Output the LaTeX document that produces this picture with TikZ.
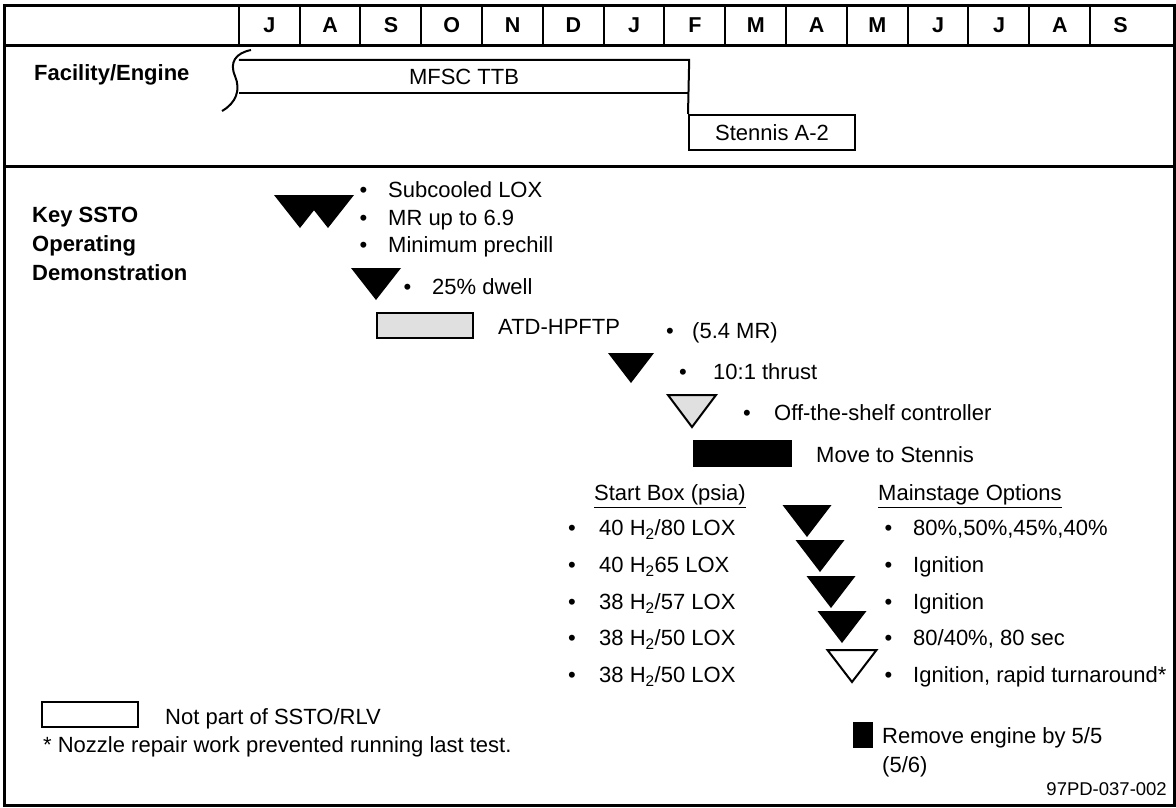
\documentclass[tikz,border=0pt]{standalone}
\usepackage{fontspec}
\setmainfont{Liberation Sans}

\newcommand{\blt}[1][21pt]{\llap{\textbullet\hspace{#1}}}

\tikzset{
  txt/.style={anchor=west,inner sep=0pt,font=\fontsize{22}{26}\selectfont,text height=15.7pt,text depth=0pt},
  lbl/.style={txt,font=\fontsize{22}{26}\selectfont\bfseries,text height=15.8pt},
  box/.style={inner sep=0pt,font=\fontsize{22}{26}\selectfont,text height=15.7pt,text depth=0pt},
  month/.style={box,minimum width=60.8pt,minimum height=40pt,font=\fontsize{21.5}{25}\selectfont\bfseries,text height=15.4pt},
  rule/.style={line width=3pt},
  thin/.style={line width=2pt},
  tri/.style={fill=black},
  trigray/.style={draw=black,fill=black!12,line width=2pt},
  triopen/.style={draw=black,fill=white,line width=2pt}
}

\begin{document}
\begin{tikzpicture}[x=1pt,y=-1pt]
\useasboundingbox (0,0) rectangle (1176,807);
% frame and rows
\draw[rule] (4,5) rectangle (1174,805);
\draw[rule] (4,45) -- (1174,45);
\draw[rule] (4,166) -- (1174,166);
% months
\foreach \m [count=\i] in {J,A,S,O,N,D,J,F,M,A,M,J,J,A,S}
\node (m\i)[month] at ({239+60.8*(\i-0.5)},25) {\m};
\foreach \i in {1,...,15}
\draw[thin] (m\i.north west) -- (m\i.south west);
% facility row
\node (fac)[lbl] at (34,73) {Facility/Engine};
\node (mfsc)[box,minimum width=450pt,minimum height=33pt] at (464,76.5) {MFSC TTB};
\node (stennis)[box,draw,thin,minimum width=166pt,minimum height=35pt] at (772,132.5) {Stennis A-2};
\draw[thin] (mfsc.south west) -- (mfsc.south east);
\draw[thin] (mfsc.north west) -- (mfsc.north east) -- (stennis.north west);
\draw[thin] (251,50) .. controls (236,53) and (229,62) .. (235,76) .. controls (241,90) and (236,103) .. (222,111);
% key SSTO demonstrations
\foreach \t [count=\i] in {Key SSTO,Operating,Demonstration}
\node (key\i)[lbl] at (32,{215+29*(\i-1)}) {\t};
\path[tri] (274,195) -- (326,195) -- (300,228) -- cycle;
\path[tri] (302,195) -- (354,195) -- (328,228) -- cycle;
\node (sub1)[txt] at (388,190) {\blt Subcooled LOX};
\node (sub2)[txt] at (388,218) {\blt MR up to 6.9};
\node (sub3)[txt] at (388,245) {\blt Minimum prechill};
\path[tri] (351,268) -- (401,268) -- (376,300) -- cycle;
\node (dwell)[txt] at (432,287) {\blt 25\% dwell};
\node (atdbox)[draw,line width=2.4pt,fill=black!12,minimum width=96pt,minimum height=25pt] at (425,325.5) {};
\node (atd)[txt] at (498,327) {ATD-HPFTP};
\node (mr)[txt] at (692,331) {\blt[18.4pt](5.4 MR)};
\path[tri] (608,353) -- (654,353) -- (631,383) -- cycle;
\node (thrust)[txt] at (713,372) {\blt[26.4pt]10:1 thrust};
\path[trigray] (668,395) -- (716,395) -- (692,427) -- cycle;
\node (ots)[txt] at (774,413) {\blt[23.4pt]Off-the-shelf controller};
\node (movebox)[fill=black,minimum width=99pt,minimum height=27pt] at (742.5,453.5) {};
\node (move)[txt] at (816,455) {Move to Stennis};
\node (startbox)[txt] at (594,493) {\underline{Start Box (psia)}};
\node (mainst)[txt] at (878,493) {\underline{Mainstage Options}};
\foreach \y/\ax/\ay/\sty/\sb/\ms in {
  528/807/537/tri/{40 H\textsubscript{2}/80 LOX}/{80\%,50\%,45\%,40\%},
  565/820/572/tri/{40 H\textsubscript{2}65 LOX}/{Ignition},
  602/831/608/tri/{38 H\textsubscript{2}/57 LOX}/{Ignition},
  638/842/643/tri/{38 H\textsubscript{2}/50 LOX}/{80/40\%, 80 sec},
  675/852/682/triopen/{38 H\textsubscript{2}/50 LOX}/{Ignition, rapid turnaround*}}
{
\path[\sty] ({\ax-24.5},{\ay-32}) -- ({\ax+24.5},{\ay-32}) -- (\ax,\ay) -- cycle;
\node (sb\y)[txt] at (599,\y) {\blt[23.4pt]\sb};
\node (ms\y)[txt] at (913,\y) {\blt\ms};
}
% remove engine
\node (rmbox)[fill=black,minimum width=20.5pt,minimum height=26pt] at (863,735) {};
\node (rm1)[txt] at (882,736) {Remove engine by 5/5};
\node (rm2)[txt] at (882,765) {(5/6)};
\node (docid)[txt,anchor=east,font=\fontsize{18.5}{22}\selectfont,text height=13.2pt] at (1167,789) {97PD-037-002};
% legend
\node (legbox)[draw,thin,minimum width=96pt,minimum height=25pt] at (90,714.5) {};
\node (leg)[txt] at (165,717) {Not part of SSTO/RLV};
\node (note)[txt] at (43,745) {* Nozzle repair work prevented running last test.};
\end{tikzpicture}
\end{document}
